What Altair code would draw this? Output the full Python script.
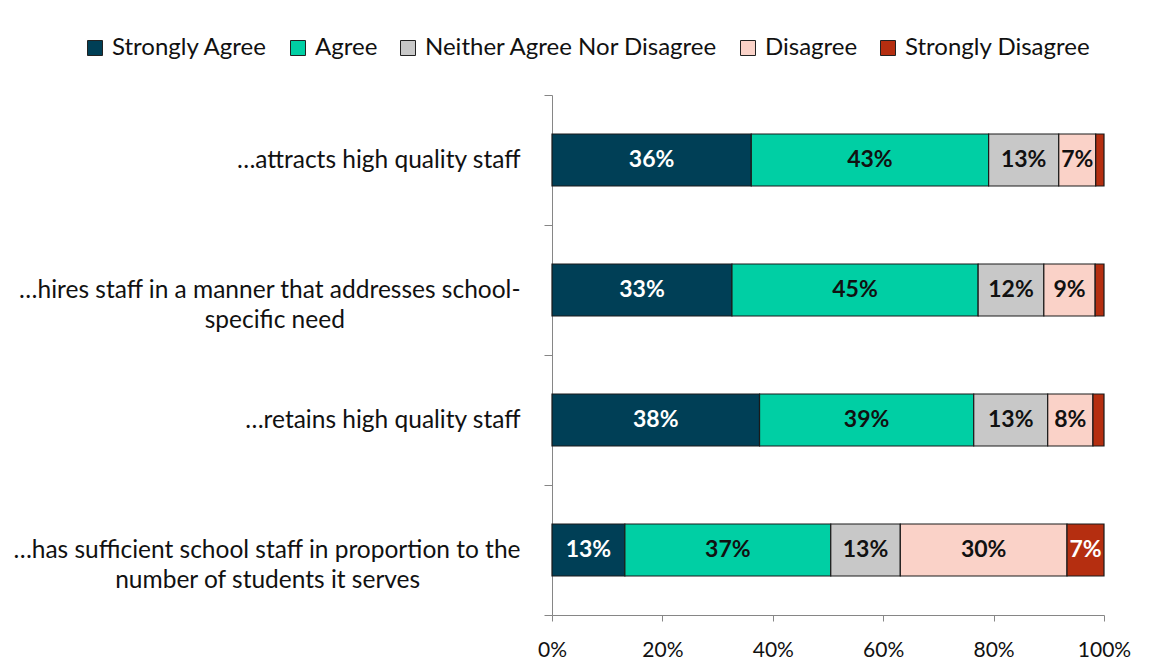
import altair as alt
import pandas as pd

# ---- data ----
categories = [
    "…attracts high quality staff",
    "…hires staff in a manner that addresses school-|specific need",
    "…retains high quality staff",
    "…has sufficient school staff in proportion to the|number of students it serves",
]
seg_names = ["Strongly Agree", "Agree", "Neither Agree Nor Disagree", "Disagree", "Strongly Disagree"]
seg_colors = ["#003f56", "#00cfa4", "#c8c8c8", "#fad2c8", "#b52e10"]
strongly_agree = [36.1, 32.6, 37.6, 13.2]
agree = [43.0, 44.6, 38.8, 37.3]
neither = [12.7, 11.9, 13.4, 12.6]
disagree = [6.7, 9.3, 8.2, 30.2]
strongly_disagree = [1.5, 1.6, 2.0, 6.7]
x_ticks = [0, 20, 40, 60, 80, 100]

series = [strongly_agree, agree, neither, disagree, strongly_disagree]
rows = []
for i, c in enumerate(categories):
    for j, name in enumerate(seg_names):
        rows.append({"item": c, "response": name, "order": j, "value": series[j][i]})
df = pd.DataFrame(rows)

FONT = "Lato"
AXIS_GRAY = "#868686"
NB = "\u00a0"
ZW = "\u200b"  # keeps the trailing no-break spaces from being trimmed
pad_counts = {categories[1]: 28, categories[3]: 16}

# label expression: split two-line labels, centre the shorter line via trailing nbsp
parts = []
for c, n in pad_counts.items():
    l1, l2 = c.split("|")
    parts.append(f"datum.label == '{c}' ? ['{l1}', '{l2}{NB * n}{ZW}']")
label_expr = " : ".join(parts) + " : datum.label"

base = alt.Chart(df).transform_stack(
    stack="value", groupby=["item"], as_=["x0", "x1"], sort=[alt.SortField("order")]
).transform_calculate(
    mid="(datum.x0 + datum.x1) / 2",
    lab="round(datum.value) + '%'",
)

y_enc = alt.Y(
    "item:N",
    sort=categories,
    scale=alt.Scale(paddingInner=0, paddingOuter=0),
    axis=alt.Axis(
        title=None,
        tickBand="extent",
        tickSize=8,
        tickColor=AXIS_GRAY,
        domainColor=AXIS_GRAY,
        labelFont=FONT,
        labelFontSize=24.5,
        labelColor="#111111",
        labelLineHeight=30,
        labelPadding=24,
        labelLimit=700,
        labelExpr=label_expr,
    ),
)

x_scale = alt.Scale(domain=[0, 100])
x_axis = alt.Axis(
    title=None,
    values=x_ticks,
    labelExpr="datum.value + '%'",
    labelFlush=False,
    grid=False,
    tickSize=6,
    tickColor=AXIS_GRAY,
    domainColor=AXIS_GRAY,
    labelFont=FONT,
    labelFontSize=21,
    labelColor="#111111",
    labelPadding=18,
)

bars = base.mark_bar(stroke="#1a1a1a", strokeWidth=1.2, height={"band": 0.4}).encode(
    x=alt.X("x0:Q", scale=x_scale, axis=x_axis),
    x2="x1:Q",
    y=y_enc,
    color=alt.Color(
        "response:N",
        scale=alt.Scale(domain=seg_names, range=seg_colors),
        legend=alt.Legend(
            title=None,
            orient="none",
            legendX=-469,
            legendY=-59,
            direction="horizontal",
            columns=5,
            symbolType="square",
            symbolSize=225,
            symbolStrokeColor="#222222",
            symbolStrokeWidth=1,
            symbolOpacity=1,
            labelFont=FONT,
            labelFontSize=24,
            labelColor="#111111",
            labelLimit=500,
            labelOffset=5,
            columnPadding=18,
        ),
    ),
)

texts = base.transform_filter("datum.value >= 5").mark_text(
    font=FONT, fontWeight="bold", fontSize=23
).encode(
    x=alt.X("mid:Q", scale=x_scale, axis=x_axis),
    y=y_enc,
    text="lab:N",
    color=alt.condition(
        "datum.order == 0 || datum.order == 4", alt.value("white"), alt.value("#111111")
    ),
)

chart = alt.layer(bars, texts).properties(
    width=552,
    height=520,
    autosize=alt.AutoSizeParams(type="none"),
    padding={"left": 544, "top": 87, "right": 42, "bottom": 44},
).configure_view(stroke=None)

chart.save("out.html", embed_options={"renderer": "svg", "actions": False})
